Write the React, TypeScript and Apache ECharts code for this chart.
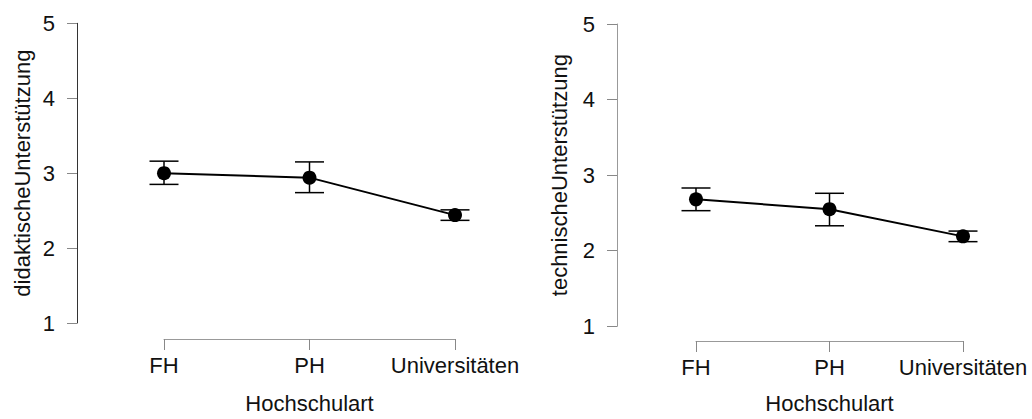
import React, { useEffect, useRef } from "react";
import * as echarts from "echarts";

const categories = ["FH", "PH", "Universitäten"];
const yTicks = [1, 2, 3, 4, 5];

const didMean = [3.0, 2.94, 2.44];
const didLow = [2.85, 2.74, 2.37];
const didHigh = [3.16, 3.15, 2.51];

const techMean = [2.68, 2.55, 2.19];
const techLow = [2.53, 2.33, 2.12];
const techHigh = [2.83, 2.76, 2.26];

const xTitle = "Hochschulart";
const yTitleLeft = "didaktischeUnterstützung";
const yTitleRight = "technischeUnterstützung";

const FONT = "'Liberation Sans', Arial, sans-serif";
const FS = 22;

function errorSeries(low: number[], high: number[], axisIndex: number) {
  return {
    type: "custom",
    xAxisIndex: axisIndex,
    yAxisIndex: axisIndex,
    z: 2,
    data: low.map((l, i) => [i, l, high[i]]),
    renderItem: (params: any, api: any) => {
      const lo = api.coord([api.value(0), api.value(1)]);
      const hi = api.coord([api.value(0), api.value(2)]);
      const hw = 14.5;
      const st = { stroke: "#000", lineWidth: 1.5 };
      return {
        type: "group",
        children: [
          { type: "line", shape: { x1: lo[0], y1: lo[1], x2: hi[0], y2: hi[1] }, style: st },
          { type: "line", shape: { x1: lo[0] - hw, y1: lo[1], x2: lo[0] + hw, y2: lo[1] }, style: st },
          { type: "line", shape: { x1: hi[0] - hw, y1: hi[1], x2: hi[0] + hw, y2: hi[1] }, style: st },
        ],
      };
    },
  };
}

function meanSeries(values: number[], axisIndex: number) {
  return {
    type: "line",
    xAxisIndex: axisIndex,
    yAxisIndex: axisIndex,
    z: 3,
    data: values,
    symbol: "circle",
    symbolSize: 14,
    itemStyle: { color: "#000" },
    lineStyle: { color: "#000", width: 2 },
  };
}

function xAxisDef(gridIndex: number, offset: number, nameGap: number) {
  return {
    type: "category",
    gridIndex,
    data: categories,
    boundaryGap: false,
    offset,
    axisLine: { show: true, lineStyle: { color: "#999", width: 1 } },
    axisTick: { show: true, length: 11, lineStyle: { color: "#888" }, alignWithLabel: true, interval: 0 },
    axisLabel: {
      fontSize: FS,
      fontFamily: FONT,
      color: "#111",
      margin: 15,
      interval: 0,
      hideOverlap: false,
    },
    splitLine: { show: false },
    name: xTitle,
    nameLocation: "middle",
    nameGap,
    nameTextStyle: { fontSize: FS, fontFamily: FONT, color: "#111" },
  };
}

function yAxisDef(gridIndex: number, offset: number, name: string, nameGap: number, lineColor: string) {
  return {
    type: "value",
    gridIndex,
    min: 1,
    max: 5,
    interval: 1,
    offset,
    axisLine: { show: true, lineStyle: { color: lineColor, width: 1 } },
    axisTick: { show: true, length: 10, lineStyle: { color: "#888" } },
    axisLabel: {
      fontSize: FS,
      fontFamily: FONT,
      color: "#111",
      margin: 22,
      formatter: (v: number) => (yTicks.includes(v) ? String(v) : ""),
    },
    splitLine: { show: false },
    name,
    nameLocation: "middle",
    nameGap,
    nameTextStyle: { fontSize: FS, fontFamily: FONT, color: "#111" },
  };
}

export default function App() {
  const ref = useRef<HTMLDivElement>(null);
  useEffect(() => {
    if (!ref.current) return;
    const chart = echarts.init(ref.current, undefined, { renderer: "svg" });
    chart.setOption({
      animation: false,
      backgroundColor: "#fff",
      textStyle: { fontFamily: FONT },
      grid: [
        { left: 164, top: 23.3, width: 291, height: 300 },
        { left: 696, top: 24, width: 267, height: 303 },
      ],
      xAxis: [xAxisDef(0, 16, 53), xAxisDef(1, 14.7, 51)],
      yAxis: [
        yAxisDef(0, 87, yTitleLeft, 44, "#333"),
        yAxisDef(1, 79, yTitleRight, 47, "#999"),
      ],
      series: [
        errorSeries(didLow, didHigh, 0),
        meanSeries(didMean, 0),
        errorSeries(techLow, techHigh, 1),
        meanSeries(techMean, 1),
      ],
    });
    return () => chart.dispose();
  }, []);
  return (
    <div
      ref={ref}
      style={{ position: "fixed", left: 0, top: 0, width: 1032, height: 419, background: "#fff" }}
    />
  );
}
